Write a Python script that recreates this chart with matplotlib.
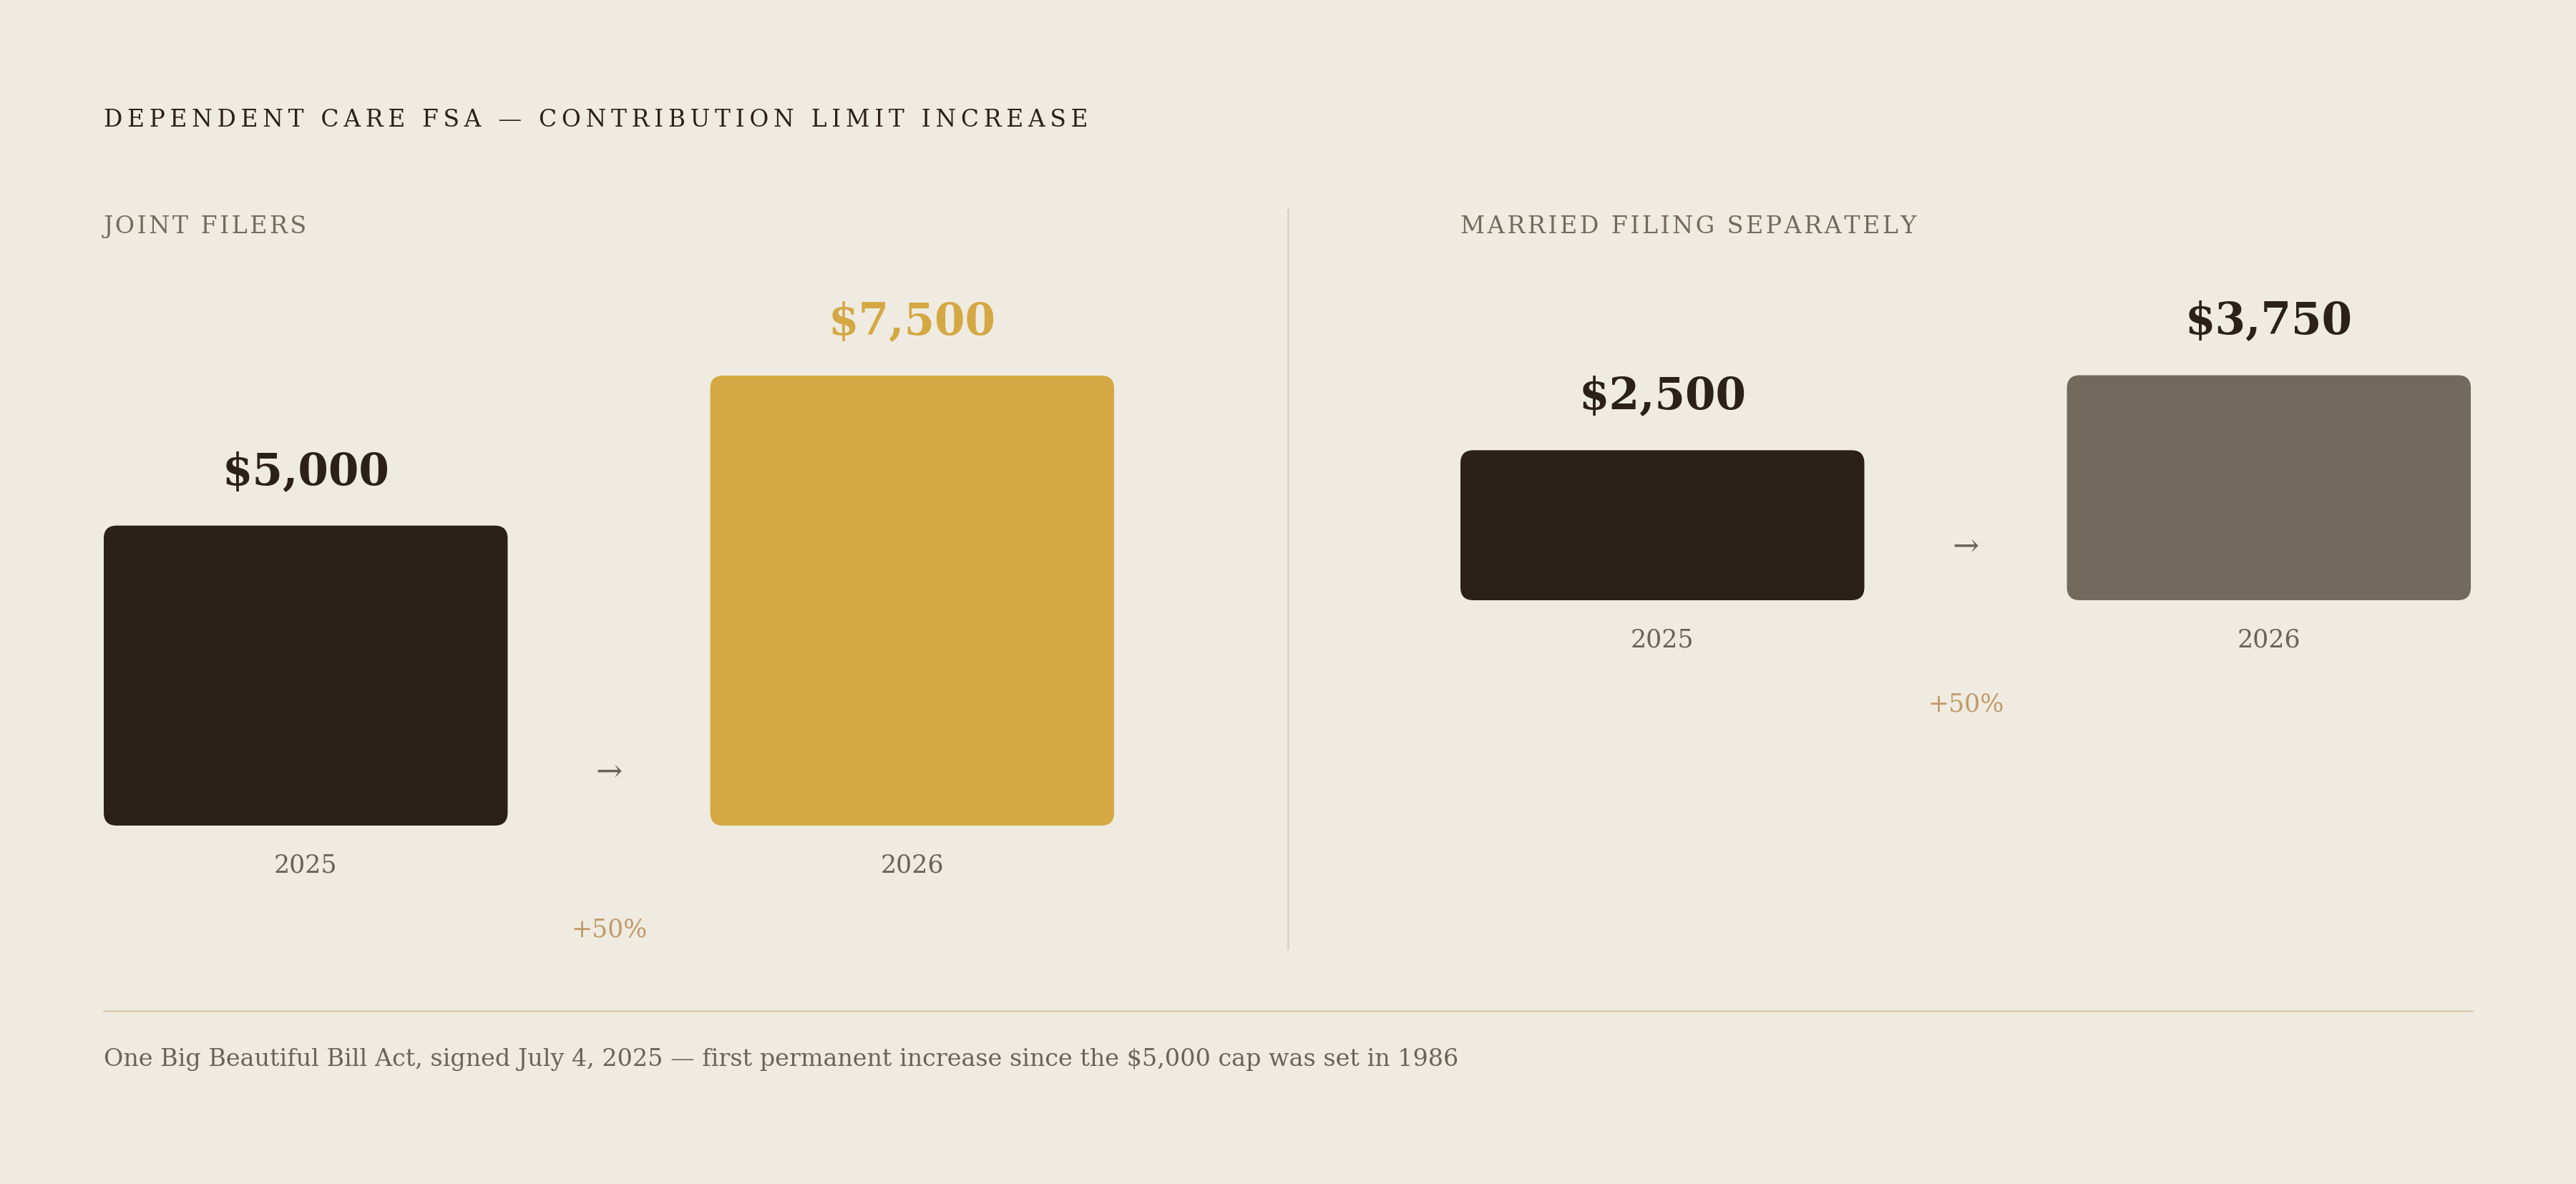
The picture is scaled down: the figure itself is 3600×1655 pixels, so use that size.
import matplotlib
matplotlib.use("Agg")
import matplotlib.pyplot as plt
from matplotlib.patches import FancyBboxPatch
from matplotlib.lines import Line2D

# data
years = ["2025", "2026"]
joint_values = [5000, 7500]
separate_values = [2500, 3750]
joint_labels = ["$5,000", "$7,500"]
separate_labels = ["$2,500", "$3,750"]
change_label = "+50%"
title = "DEPENDENT CARE FSA — CONTRIBUTION LIMIT INCREASE"
panel_titles = ["JOINT FILERS", "MARRIED FILING SEPARATELY"]
footnote = ("One Big Beautiful Bill Act, signed July 4, 2025 — first permanent "
            "increase since the $5,000 cap was set in 1986")

BG = "#efebe1"
DARK = "#2b2119"
GOLD = "#d4a843"
TAUPE = "#736a5e"
MUTED = "#6b6358"
TAN = "#c29a6a"

W, H = 3600, 1656
plt.rcParams['font.family'] = ['DejaVu Serif']

fig = plt.figure(figsize=(W / 100, H / 100), dpi=100, facecolor=BG)


def spaced(s, sep="\u200a"):
    return sep.join(s)


def fx(px):
    return px / W


def fy(py):
    return 1 - py / H


bar_w = 0.666
ymax = 7500


def panel(left_px, bottom_px, values, labels, colors, label_colors):
    width_px = 1412
    height_px = 629
    ax = fig.add_axes([fx(left_px), fy(bottom_px), width_px / W, height_px / H])
    ax.set_xlim(-bar_w / 2, 1 + bar_w / 2)
    ax.set_ylim(0, ymax)
    ax.axis("off")
    ax.patch.set_alpha(0)

    # corner radius in pixels -> data units
    xpp = (1 + bar_w) / width_px
    ypp = ymax / height_px
    r_px = 18
    bars = ax.bar(range(len(values)), values, width=bar_w, color="none")
    for b, c in zip(bars, colors):
        b.set_visible(False)
        p = FancyBboxPatch((b.get_x(), 0), b.get_width(), b.get_height(),
                           boxstyle=f"round,pad=0,rounding_size={r_px * xpp}",
                           mutation_aspect=ypp / xpp, fc=c, ec="none")
        ax.add_patch(p)

    for i, (v, lab, lc) in enumerate(zip(values, labels, label_colors)):
        ax.annotate(lab, (i, v), xytext=(0, 76), textcoords="offset pixels",
                    ha="center", va="center", fontsize=44, fontweight="bold",
                    color=lc)
        ax.annotate(years[i], (i, 0), xytext=(0, -55), textcoords="offset pixels",
                    ha="center", va="center", fontsize=25, color=MUTED)
    ax.annotate("→", (0.5, 0), xytext=(0, 76), textcoords="offset pixels",
                ha="center", va="center", fontsize=32, color=MUTED)
    ax.annotate(change_label, (0.5, 0), xytext=(0, -145), textcoords="offset pixels",
                ha="center", va="center", fontsize=25, color=TAN)
    return ax


panel(145, 1155, joint_values, joint_labels, [DARK, GOLD], [DARK, GOLD])
panel(2041, 840, separate_values, separate_labels, [DARK, TAUPE], [DARK, DARK])

# title and panel headings
fig.text(fx(145), fy(168), spaced(title, "\u2009"), ha="left", va="center",
         fontsize=23.7, color=DARK)
fig.text(fx(145), fy(317), spaced(panel_titles[0]), ha="left", va="center",
         fontsize=24, color=TAUPE)
fig.text(fx(2041), fy(317), spaced(panel_titles[1]), ha="left", va="center",
         fontsize=24, color=TAUPE)

# divider and rule
fig.add_artist(Line2D([fx(1800), fx(1800)], [fy(294), fy(1327)], color="#d9d3c7", lw=2))
fig.add_artist(Line2D([fx(145), fx(3455)], [fy(1414), fy(1414)], color="#dccdb0", lw=2))

fig.text(fx(145), fy(1481), footnote, ha="left", va="center", fontsize=24, color=MUTED)

fig.savefig("out.png", dpi=100, facecolor=BG)
